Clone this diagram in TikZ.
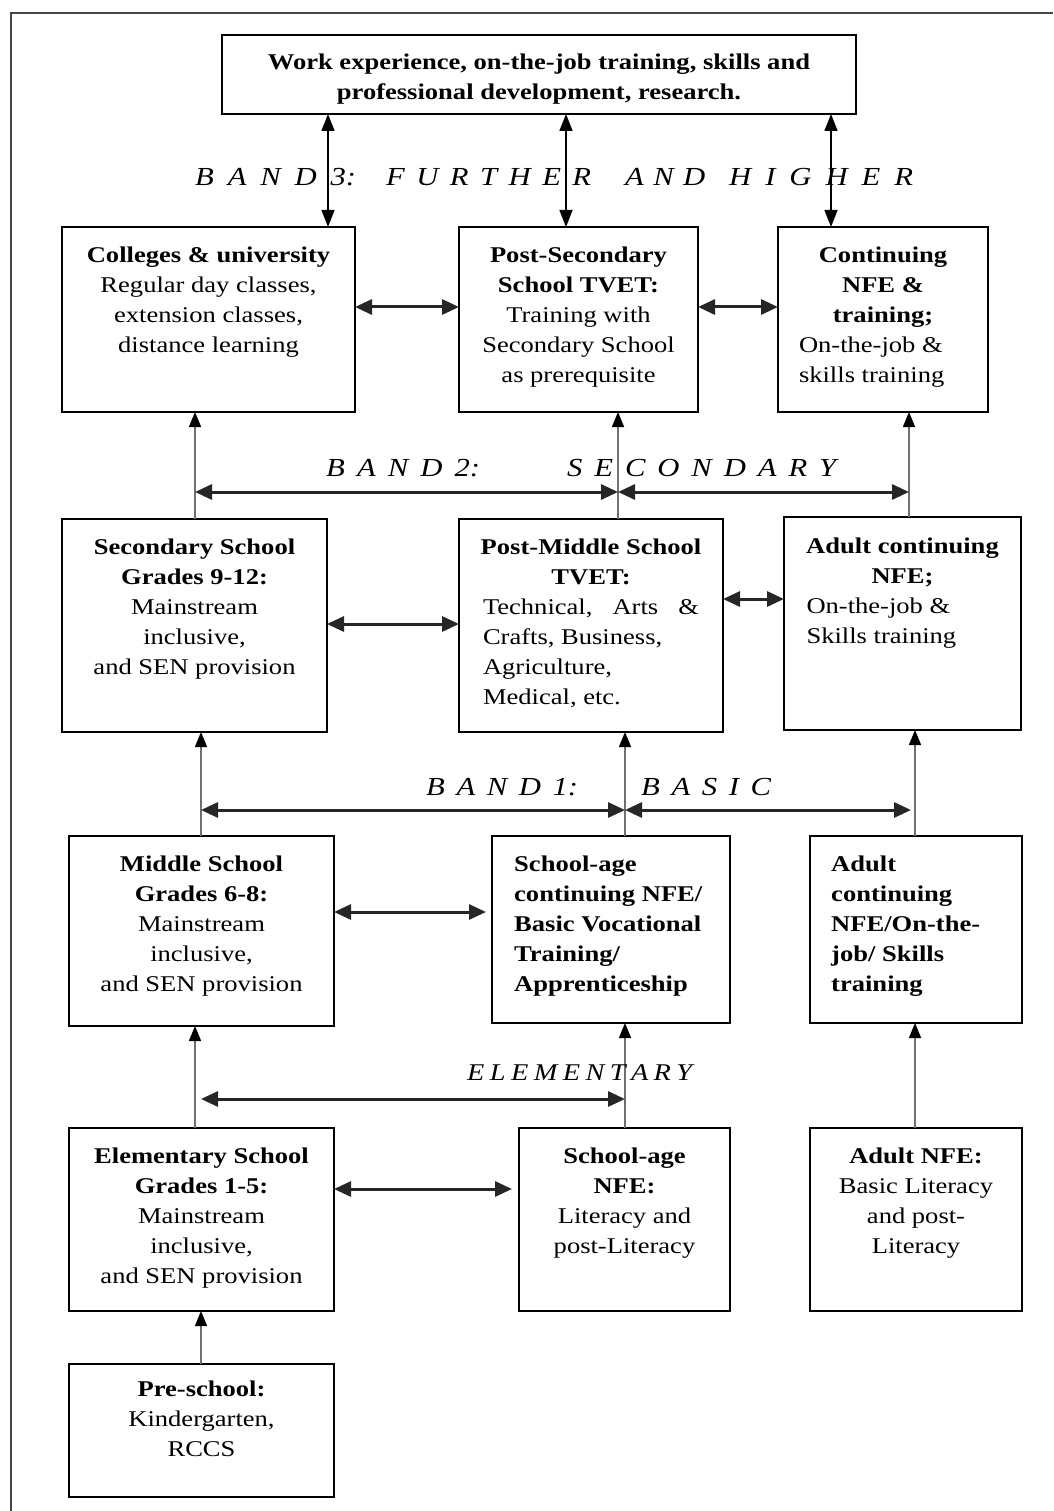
\documentclass[tikz,border=0pt]{standalone}
\usepackage{fontspec}
\setmainfont{Liberation Serif}[FakeStretch=1.18]
\usetikzlibrary{arrows.meta}
\definecolor{linkgray}{RGB}{112,112,112}
\definecolor{framegray}{RGB}{70,70,70}
\newcommand\spreadtext[2]{\makebox[#1][s]{#2}}
\newcommand\mkbox[5]{\node[boxsty, minimum width={#4-#2}, minimum height={#5-#3}] (#1) at ({(#2+#4)/2},{(#3+#5)/2}) {};}
\tikzset{
  boxsty/.style={draw=black, line width=1.6pt, inner sep=0pt, outer sep=0pt},
  txt/.style={inner sep=0pt, font=\fontsize{22.5}{30}\selectfont, align=center, anchor=north},
  txtl/.style={inner sep=0pt, font=\fontsize{22.5}{30}\selectfont, align=left, anchor=north west},
  bandtxt/.style={inner sep=0pt, font=\fontsize{26}{30}\selectfont\itshape, anchor=west},
  vlink/.style={linkgray, line width=1.5pt, -{Triangle[length=15pt,width=12pt,black]}},
  vboth/.style={black, line width=1.5pt, {Triangle[length=17pt,width=13pt]}-{Triangle[length=17pt,width=13pt]}},
  hboth/.style={black!85, line width=3pt, {Triangle[length=17pt,width=15pt]}-{Triangle[length=17pt,width=15pt]}}
}
\begin{document}
\begin{tikzpicture}[x=1pt,y=-1pt]
\useasboundingbox (0,0) rectangle (1053,1511);
% frame
\draw[framegray, line width=2pt] (11,1511) -- (11,13) -- (1053,13);

% boxes
\mkbox{top}{222}{35}{856}{114}
\mkbox{col}{62}{227}{355}{412}
\mkbox{pst}{459}{227}{698}{412}
\mkbox{cnt}{778}{227}{988}{412}
\mkbox{sec}{62}{519}{327}{732}
\mkbox{pmt}{459}{519}{723}{732}
\mkbox{acn}{784}{517}{1021}{730}
\mkbox{mid}{69}{836}{334}{1026}
\mkbox{sac}{492}{836}{730}{1023}
\mkbox{acb}{810}{836}{1022}{1023}
\mkbox{ele}{69}{1128}{334}{1311}
\mkbox{san}{519}{1128}{730}{1311}
\mkbox{anf}{810}{1128}{1022}{1311}
\mkbox{pre}{69}{1364}{334}{1497}

% texts
\node[txt] (ttop) at ([yshift=-19pt]top.north) {\textbf{Work experience, on-the-job training, skills and}\\\textbf{professional development, research.}};
\node[txt] (tcol) at ([yshift=-20pt]col.north) {\textbf{Colleges \& university}\\Regular day classes,\\extension classes,\\distance learning};
\node[txt] (tpst) at ([yshift=-20pt]pst.north) {\textbf{Post-Secondary}\\\textbf{School TVET:}\\Training with\\Secondary School\\as prerequisite};
\node[txt] (tcnt) at ([yshift=-20pt]cnt.north) {\textbf{Continuing}\\\textbf{NFE \&}\\\textbf{training;}\\\makebox[168pt][l]{On-the-job \&}\\\makebox[168pt][l]{skills training}};
\node[txt] (tsec) at ([yshift=-20pt]sec.north) {\textbf{Secondary School}\\\textbf{Grades 9-12:}\\Mainstream\\inclusive,\\and SEN provision};
\node[txt] (tpmt) at ([yshift=-20pt]pmt.north) {\textbf{Post-Middle School}\\\textbf{TVET:}\\\makebox[216pt][s]{Technical,\hfill Arts\hfill \&}\\\makebox[216pt][l]{Crafts, Business,}\\\makebox[216pt][l]{Agriculture,}\\\makebox[216pt][l]{Medical, etc.}};
\node[txt] (tacn) at ([yshift=-21pt]acn.north) {\textbf{Adult continuing}\\\textbf{NFE;}\\\makebox[192pt][l]{On-the-job \&}\\\makebox[192pt][l]{Skills training}};
\node[txt] (tmid) at ([yshift=-20pt]mid.north) {\textbf{Middle School}\\\textbf{Grades 6-8:}\\Mainstream\\inclusive,\\and SEN provision};
\node[txtl] (tsac) at ([xshift=22pt,yshift=-20pt]sac.north west) {\textbf{School-age}\\\textbf{continuing NFE/}\\\textbf{Basic Vocational}\\\textbf{Training/}\\\textbf{Apprenticeship}};
\node[txtl] (tacb) at ([xshift=21pt,yshift=-20pt]acb.north west) {\textbf{Adult}\\\textbf{continuing}\\\textbf{NFE/On-the-}\\\textbf{job/ Skills}\\\textbf{training}};
\node[txt] (tele) at ([yshift=-20pt]ele.north) {\textbf{Elementary School}\\\textbf{Grades 1-5:}\\Mainstream\\inclusive,\\and SEN provision};
\node[txt] (tsan) at ([yshift=-20pt]san.north) {\textbf{School-age}\\\textbf{NFE:}\\Literacy and\\post-Literacy};
\node[txt] (tanf) at ([yshift=-20pt]anf.north) {\textbf{Adult NFE:}\\Basic Literacy\\and post-\\Literacy};
\node[txt] (tpre) at ([yshift=-17pt]pre.north) {\textbf{Pre-school:}\\Kindergarten,\\RCCS};

% column coordinates
\coordinate (xa) at (328,0);
\coordinate (xb) at (566,0);
\coordinate (xc) at (831,0);
\coordinate (la) at (195,0);
\coordinate (lb) at (201,0);
\coordinate (ma) at (618,0);
\coordinate (mb) at (625,0);
\coordinate (ra) at (909,0);
\coordinate (rb) at (915,0);

% band 3 vertical double arrows
\draw[vboth] (top.south -| xa) -- (col.north -| xa);
\draw[vboth] (top.south -| xb) -- (pst.north -| xb);
\draw[vboth] (top.south -| xc) -- (cnt.north -| xc);

% upward links
\draw[vlink] (sec.north -| la) -- (col.south -| la);
\draw[vlink] (pmt.north -| ma) -- (pst.south -| ma);
\draw[vlink] (acn.north -| ra) -- (cnt.south -| ra);
\draw[vlink] (mid.north -| lb) -- (sec.south -| lb);
\draw[vlink] (sac.north -| mb) -- (pmt.south -| mb);
\draw[vlink] (acb.north -| rb) -- (acn.south -| rb);
\draw[vlink] (ele.north -| la) -- (mid.south -| la);
\draw[vlink] (san.north -| mb) -- (sac.south -| mb);
\draw[vlink] (anf.north -| rb) -- (acb.south -| rb);
\draw[vlink] (pre.north -| lb) -- (ele.south -| lb);

% band lines
\coordinate (b2l) at (195,492);
\coordinate (b2m) at (618,492);
\coordinate (b2r) at (909,492);
\coordinate (b1l) at (201,810);
\coordinate (b1m) at (625,810);
\coordinate (b1r) at (911,810);
\coordinate (bel) at (201,1099);
\coordinate (bem) at (625,1099);
\draw[hboth] (b2l) -- (b2m);
\draw[hboth] (b2m) -- (b2r);
\draw[hboth] (b1l) -- (b1m);
\draw[hboth] (b1m) -- (b1r);
\draw[hboth] (bel) -- (bem);

% horizontal links between boxes
\coordinate (h1) at (0,307);
\coordinate (h2) at (0,624);
\coordinate (h3) at (0,599);
\coordinate (h4) at (0,912);
\coordinate (h5) at (0,1189);
\draw[hboth] (col.east |- h1) -- (pst.west |- h1);
\draw[hboth] (pst.east |- h1) -- (cnt.west |- h1);
\draw[hboth] (sec.east |- h2) -- (pmt.west |- h2);
\draw[hboth] (pmt.east |- h3) -- (acn.west |- h3);
\draw[hboth] (mid.east |- h4) -- ([xshift=-6pt]sac.west |- h4);
\draw[hboth] (ele.east |- h5) -- ([xshift=-7pt]san.west |- h5);

% band labels
\node[bandtxt] (b3a) at (195,177) {\spreadtext{161pt}{B\hfill A\hfill N\hfill D\hfill 3:}};
\node[bandtxt] (b3b) at (386,177) {\spreadtext{205pt}{F\hfill U\hfill R\hfill T\hfill H\hfill E\hfill R}};
\node[bandtxt] (b3c) at (625,177) {\spreadtext{80pt}{A\hfill N\hfill D}};
\node[bandtxt] (b3d) at (729,177) {\spreadtext{184pt}{H\hfill I\hfill G\hfill H\hfill E\hfill R}};
\node[bandtxt] (b2a) at (326,468) {\spreadtext{154pt}{B\hfill A\hfill N\hfill D\hfill 2:}};
\node[bandtxt] (b2b) at (567,468) {\spreadtext{269pt}{S\hfill E\hfill C\hfill O\hfill N\hfill D\hfill A\hfill R\hfill Y}};
\node[bandtxt] (b1a) at (426,787) {\spreadtext{152pt}{B\hfill A\hfill N\hfill D\hfill 1:}};
\node[bandtxt] (b1b) at (641,787) {\spreadtext{130pt}{B\hfill A\hfill S\hfill I\hfill C}};
\node[bandtxt, font=\fontsize{24}{28}\selectfont\itshape] (belab) at (467,1073) {\spreadtext{225pt}{E\hfill L\hfill E\hfill M\hfill E\hfill N\hfill T\hfill A\hfill R\hfill Y}};
\end{tikzpicture}
\end{document}
